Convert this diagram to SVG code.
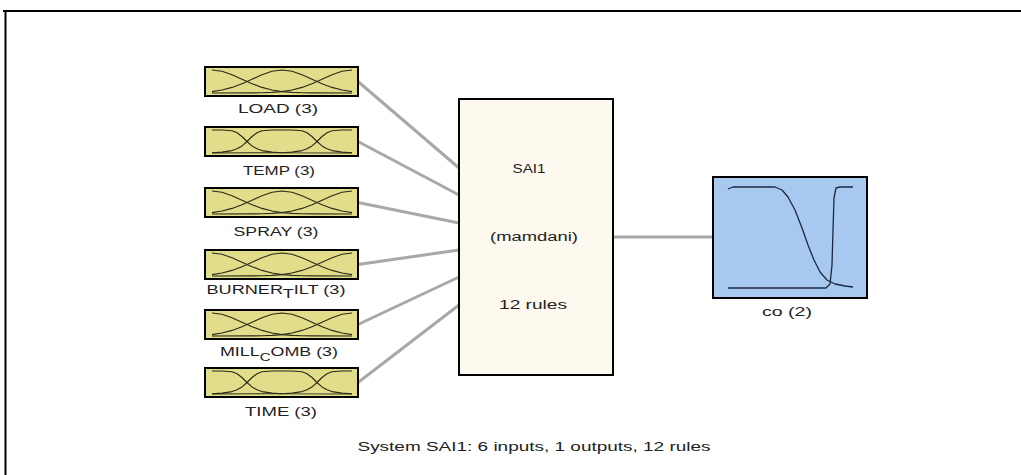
<svg xmlns="http://www.w3.org/2000/svg" width="1021" height="475" viewBox="0 0 1021 475">
<style>
.frame{stroke:#000;stroke-width:2;fill:none}
.inbox{fill:#e1dd8b;stroke:#000;stroke-width:2}
.sysbox{fill:#fdf9ef;stroke:#000;stroke-width:2}
.outbox{fill:#a8c9ef;stroke:#000;stroke-width:2}
.mf{fill:none;stroke:#2b2b18;stroke-width:1.1;stroke-linejoin:round}
.omf{fill:none;stroke:#1b2840;stroke-width:1.3;stroke-linejoin:round}
.conn{stroke:#a8a8a8;stroke-width:3;fill:none}
text{font-family:"Liberation Sans",Arial,sans-serif;font-size:12.5px;fill:#222;text-anchor:middle}
</style>
<defs>
<g id="gauss">
<polyline class="mf" points="0,0 10,1.3 20,4.7 30,9.2 40,13.7 50,17.4 60,20 70,21.6 80,22.4 90,22.8 100,22.9 140,23"/>
<polyline class="mf" points="0,21.6 10,20 20,17.4 30,13.7 40,9.2 50,4.7 60,1.3 70,0 80,1.3 90,4.7 100,9.2 110,13.7 120,17.4 130,20 140,21.6"/>
<polyline class="mf" points="140,0 130,1.3 120,4.7 110,9.2 100,13.7 90,17.4 80,20 70,21.6 60,22.4 50,22.8 40,22.9 0,23"/>
</g>
<g id="bell">
<polyline class="mf" points="0,0 10,0 20,0.8 25,2.7 30,6.5 35,11.5 40,15.9 45,18.8 50,20.6 60,22.1 70,22.7 140,23"/>
<polyline class="mf" points="0,22.7 10,22.1 20,20.6 25,18.8 30,15.9 35,11.5 40,6.5 45,2.7 50,0.8 60,0 80,0 90,0.8 95,2.7 100,6.5 105,11.5 110,15.9 115,18.8 120,20.6 130,22.1 140,22.7"/>
<polyline class="mf" points="140,0 130,0 120,0.8 115,2.7 110,6.5 105,11.5 100,15.9 95,18.8 90,20.6 80,22.1 70,22.7 0,23"/>
</g>
</defs>
<g id="frame">
<line class="frame" x1="3" y1="11" x2="1021" y2="11"/>
<line class="frame" x1="5.5" y1="10" x2="5.5" y2="475"/>
</g>
<g id="connectors">
<line class="conn" x1="358" y1="81.5" x2="459" y2="168"/>
<line class="conn" x1="358" y1="141.5" x2="459" y2="195"/>
<line class="conn" x1="358" y1="202.5" x2="459" y2="223"/>
<line class="conn" x1="358" y1="264.5" x2="459" y2="250"/>
<line class="conn" x1="358" y1="324.5" x2="459" y2="277"/>
<line class="conn" x1="358" y1="382.5" x2="459" y2="305"/>
<line class="conn" x1="613" y1="237" x2="713" y2="237"/>
</g>
<g id="in-load">
<rect class="inbox" x="205" y="67" width="153" height="29"/>
<use href="#gauss" transform="translate(212,70)"/>
<text x="278" y="113" textLength="80" lengthAdjust="spacingAndGlyphs">LOAD (3)</text>
</g>
<g id="in-temp">
<rect class="inbox" x="205" y="127" width="153" height="29"/>
<use href="#bell" transform="translate(212,130)"/>
<text x="279" y="175" textLength="72" lengthAdjust="spacingAndGlyphs">TEMP (3)</text>
</g>
<g id="in-spray">
<rect class="inbox" x="205" y="188" width="153" height="29"/>
<use href="#gauss" transform="translate(212,191)"/>
<text x="276" y="236" textLength="85" lengthAdjust="spacingAndGlyphs">SPRAY (3)</text>
</g>
<g id="in-burner">
<rect class="inbox" x="205" y="250" width="153" height="29"/>
<use href="#gauss" transform="translate(212,253)"/>
<text x="276" y="294" textLength="139" lengthAdjust="spacingAndGlyphs">BURNER<tspan dy="4">T</tspan><tspan dy="-4">ILT (3)</tspan></text>
</g>
<g id="in-mill">
<rect class="inbox" x="205" y="310" width="153" height="29"/>
<use href="#gauss" transform="translate(212,313)"/>
<text x="279" y="356" textLength="118" lengthAdjust="spacingAndGlyphs">MILL<tspan dy="5" font-size="10.5px">C</tspan><tspan dy="-5">OMB (3)</tspan></text>
</g>
<g id="in-time">
<rect class="inbox" x="205" y="368" width="153" height="29"/>
<use href="#bell" transform="translate(212,371)"/>
<text x="281" y="416" textLength="72" lengthAdjust="spacingAndGlyphs">TIME (3)</text>
</g>
<g id="system">
<rect class="sysbox" x="459" y="99" width="154" height="276"/>
<text x="529" y="173" textLength="33" lengthAdjust="spacingAndGlyphs">SAI1</text>
<text x="534" y="241" textLength="88" lengthAdjust="spacingAndGlyphs">(mamdani)</text>
<text x="533" y="309" textLength="68" lengthAdjust="spacingAndGlyphs">12 rules</text>
</g>
<g id="out-co">
<rect class="outbox" x="713" y="177" width="154" height="121"/>
<polyline class="omf" points="728,189 733,187 775,187 782,190 788,197 795,210 802,228 808,245 814,260 820,272 827,280 835,284 845,286 853,287"/>
<polyline class="omf" points="728,288 826,288 830,284 832,265 833,230 834,198 836,188 840,187 853,187"/>
<text x="787" y="316" textLength="50" lengthAdjust="spacingAndGlyphs">co (2)</text>
</g>
<g id="caption">
<text x="534" y="451" textLength="353" lengthAdjust="spacingAndGlyphs">System SAI1: 6 inputs, 1 outputs, 12 rules</text>
</g>
</svg>
